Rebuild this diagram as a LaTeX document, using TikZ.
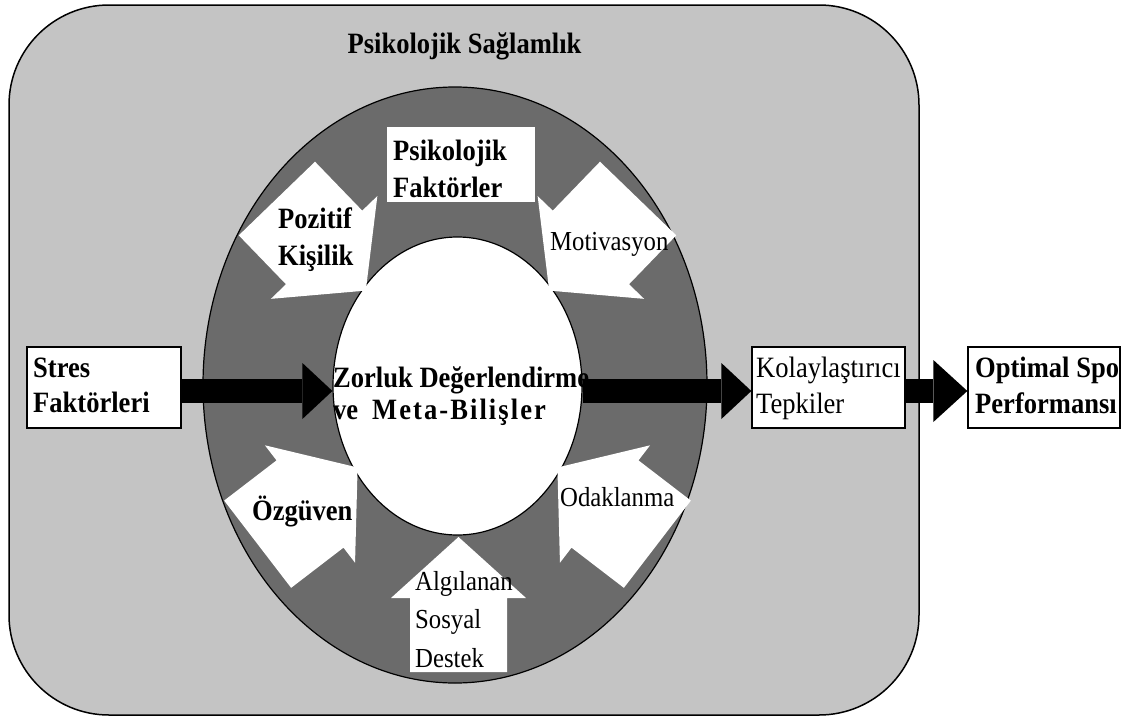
\documentclass[tikz,border=0pt]{standalone}
\usepackage{fontspec}
\setmainfont{Liberation Serif}[FakeStretch=0.9]
\usetikzlibrary{shapes.geometric,arrows.meta}

\definecolor{panel}{HTML}{C4C4C4}
\definecolor{ringgray}{HTML}{6B6B6B}

\tikzset{
  boldtxt/.style={anchor=base west, inner sep=0pt, font=\fontsize{29.5}{34}\selectfont\bfseries},
  plaintxt/.style={anchor=base west, inner sep=0pt, font=\fontsize{29.5}{34}\selectfont},
  arrowtxt/.style={anchor=base west, inner sep=0pt, font=\fontsize{27.5}{32}\selectfont},
  textbox/.style={draw=black, line width=1.3pt, fill=white, inner sep=0pt,
                  minimum height=81pt},
  flow/.style={line width=24pt, -{Triangle[length=30pt,width=56pt,line width=0pt]}},
  pics/inarrow/.style n args={4}{code={%
    % tip at the origin, tail towards -x
    \fill[white] (0,0) -- (-#4,#3) -- (-#4,#2) -- (-#1,#2) -- (-#1,-#2)
                 -- (-#4,-#2) -- (-#4,-#3) -- cycle;}}
}

\begin{document}
\begin{tikzpicture}[x=1pt,y=-1pt]
  \useasboundingbox (0,0) rectangle (1130,720);
  \fill[white] (0,0) rectangle (1130,720);

  % outer panel
  \node[draw=black, line width=1.5pt, fill=panel, rounded corners=100pt,
        minimum width=910pt, minimum height=710pt, inner sep=0pt] (frame) at (464,360) {};
  \node[boldtxt, anchor=base] (title) at (464.5,53) {Psikolojik Sağlamlık};

  % ring and core
  \node[ellipse, draw=black, line width=1.2pt, fill=ringgray, inner sep=0pt,
        minimum width=504pt, minimum height=596pt] (ring) at (455,385) {};
  \node[ellipse, draw=black, line width=1.2pt, fill=white, inner sep=0pt,
        minimum width=249pt, minimum height=298pt] (core) at (457.5,386) {};

  % inward block arrows
  \pic[rotate=-46]   at (365.8,290.6) {inarrow={128}{53}{74}{60}};
  \pic[rotate=-134]  at (549.2,290.6) {inarrow={128}{53}{74}{60}};
  \pic[rotate=37.5]  at (357.6,467.5) {inarrow={126}{55}{74}{60}};
  \pic[rotate=142.5] at (557.4,467.5) {inarrow={126}{55}{74}{60}};
  \pic[rotate=90]    at (458.5,537)   {inarrow={135}{48.5}{67.5}{61}};

  \node[fill=white, inner sep=0pt, minimum width=148pt, minimum height=75pt] (pfbox) at (461,164.5) {};

  % side boxes
  \node[textbox, minimum width=154pt] (stres) at (104,387.5) {};
  \node[textbox, minimum width=153pt] (kolay) at (828.5,387.5) {};
  \node[textbox, minimum width=152pt] (optimal) at (1044,387.5) {};

  % flow arrows
  \coordinate (axis) at (0,391);
  \draw[flow] (stres.east |- axis) -- (core.west |- axis);
  \draw[flow] (core.east |- axis) -- (kolay.west |- axis);
  \draw[line width=24pt, -{Triangle[length=34pt,width=62pt,line width=0pt]}]
       (kolay.east |- axis) -- (optimal.west |- axis);

  % labels
  \node[boldtxt] (stres1) at (33,377) {Stres};
  \node[boldtxt] (stres2) at (33,412) {Faktörleri};
  \node[plaintxt] (kolay1) at (756,377) {Kolaylaştırıcı};
  \node[plaintxt] (kolay2) at (756,413) {Tepkiler};
  \begin{scope}
    \clip (optimal.south west) rectangle (optimal.north east);
    \node[boldtxt] (opt1) at (975,377) {Optimal Spor};
    \node[boldtxt] (opt2) at (975,413) {Performansı};
  \end{scope}
  \draw[line width=1.3pt] (optimal.south west) rectangle (optimal.north east);

  \node[boldtxt] (core1) at (333,387) {Zorluk Değerlendirme};
  \node[boldtxt] (core2) at (333,419) {ve};
  \node[boldtxt] (core3) at (372,419) {\addfontfeature{LetterSpace=7}Meta-Bilişler};

  \node[boldtxt] (pf1) at (393,160) {Psikolojik};
  \node[boldtxt] (pf2) at (393,197) {Faktörler};
  \node[boldtxt] (pk1) at (278,228) {Pozitif};
  \node[boldtxt] (pk2) at (278,265) {Kişilik};
  \node[arrowtxt] (mot) at (550,250) {Motivasyon};
  \node[boldtxt] (ozg) at (252,520) {Özgüven};
  \node[arrowtxt] (oda) at (560,506) {Odaklanma};
  \node[arrowtxt] (ass1) at (415,590) {Algılanan};
  \node[arrowtxt] (ass2) at (415,628) {Sosyal};
  \node[arrowtxt] (ass3) at (415,667) {Destek};
\end{tikzpicture}
\end{document}
